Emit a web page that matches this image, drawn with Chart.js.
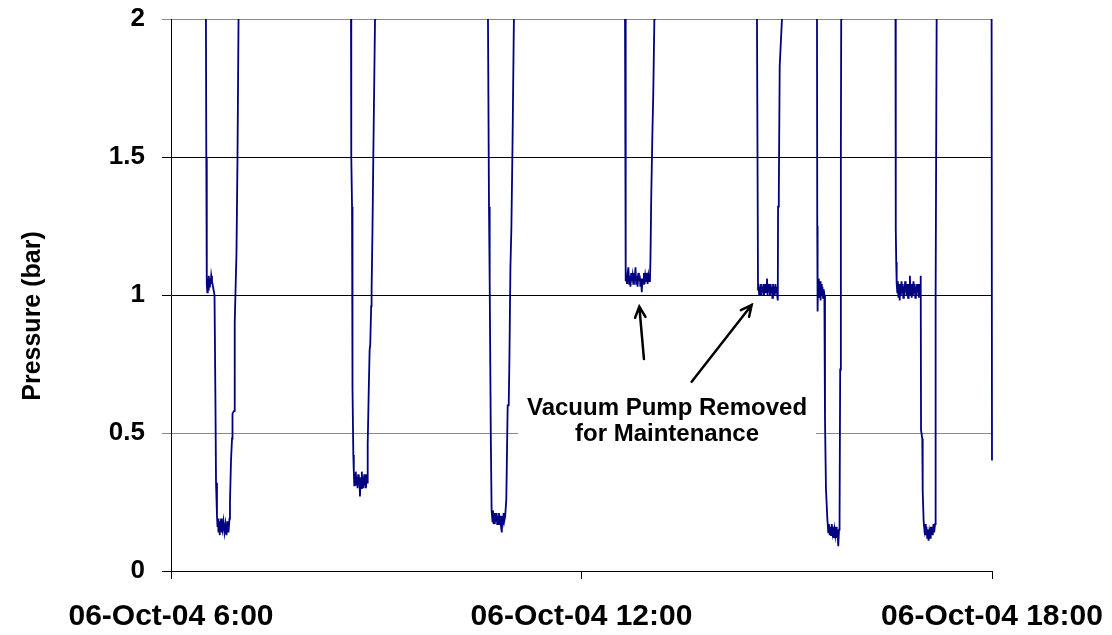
<!DOCTYPE html>
<html>
<head>
<meta charset="utf-8">
<script src="https://cdn.jsdelivr.net/npm/chart.js@4"></script>
<style>
  html, body { margin: 0; padding: 0; background: #ffffff; }
  #wrap { width: 1112px; height: 635px; position: relative; }
</style>
</head>
<body>
<div id="wrap"><canvas id="c"></canvas></div>
<script>
// ---- Data: [time of day in hours, pressure in bar] ----
const leadIn = [[6.000, 2.6]];
const cycle1 = [[6.504,2.6],[6.516,1.5],[6.523,1.04],[6.531,1.01],[6.538,1.06],[6.545,1.02],[6.552,1.07],[6.561,1.03],[6.570,1.06],[6.579,1.04],[6.588,1.07],[6.599,1.05],[6.614,1.03],[6.636,1.00],[6.650,0.60],[6.658,0.32],[6.672,0.20],[6.680,0.16],[6.687,0.19],[6.694,0.14],[6.702,0.18],[6.709,0.13],[6.716,0.17],[6.724,0.15],[6.731,0.19],[6.738,0.14],[6.745,0.17],[6.753,0.15],[6.767,0.18],[6.782,0.14],[6.797,0.17],[6.811,0.13],[6.826,0.18],[6.840,0.14],[6.855,0.19],[6.862,0.25],[6.877,0.40],[6.892,0.48],[6.899,0.57],[6.921,0.58],[6.928,0.75],[6.935,0.90],[6.957,1.15],[6.972,1.50],[6.987,2.00],[7.001,2.6]];
const cycle2 = [[8.624,2.6],[8.631,2.0],[8.635,1.5],[8.646,1.32],[8.650,0.95],[8.656,0.66],[8.665,0.42],[8.672,0.36],[8.679,0.31],[8.686,0.35],[8.694,0.32],[8.701,0.36],[8.710,0.31],[8.719,0.34],[8.727,0.30],[8.736,0.35],[8.745,0.31],[8.754,0.34],[8.762,0.27],[8.771,0.33],[8.780,0.30],[8.789,0.36],[8.798,0.31],[8.806,0.34],[8.815,0.30],[8.824,0.35],[8.833,0.31],[8.841,0.34],[8.850,0.30],[8.859,0.35],[8.868,0.32],[8.875,0.46],[8.890,0.65],[8.903,0.80],[8.912,0.82],[8.926,0.96],[8.932,1.02],[8.945,1.24],[8.958,1.52],[8.982,2.0],[8.989,2.6]];
const cycle3 = [[10.626,2.6],[10.633,2.0],[10.648,1.32],[10.658,1.05],[10.674,0.5],[10.686,0.22],[10.699,0.18],[10.706,0.22],[10.715,0.17],[10.724,0.21],[10.733,0.17],[10.741,0.21],[10.750,0.18],[10.759,0.21],[10.768,0.17],[10.777,0.20],[10.785,0.17],[10.794,0.21],[10.803,0.18],[10.812,0.20],[10.820,0.17],[10.835,0.14],[10.844,0.20],[10.853,0.17],[10.861,0.21],[10.870,0.18],[10.885,0.20],[10.901,0.26],[10.921,0.60],[10.936,0.60],[10.946,0.76],[10.961,1.10],[10.975,1.24],[10.991,1.53],[11.012,2.0],[11.019,2.6]];
const cycle4 = [[12.628,2.6],[12.636,2.0],[12.646,1.05],[12.655,1.07],[12.665,1.04],[12.675,1.08],[12.685,1.10],[12.696,1.04],[12.706,1.07],[12.716,1.03],[12.726,1.08],[12.737,1.05],[12.747,1.07],[12.757,1.04],[12.767,1.08],[12.777,1.05],[12.789,1.10],[12.799,1.04],[12.810,1.07],[12.820,1.03],[12.830,1.08],[12.840,1.05],[12.851,1.07],[12.861,1.03],[12.871,1.06],[12.881,1.01],[12.891,1.06],[12.902,1.04],[12.912,1.08],[12.922,1.04],[12.932,1.07],[12.943,1.05],[12.954,1.08],[12.966,1.04],[12.978,1.07],[12.989,1.05],[13.001,1.06],[13.008,1.13],[13.019,1.35],[13.035,1.57],[13.049,1.73],[13.065,2.0],[13.073,2.6]];
const cycle5 = [[14.558,2.6],[14.565,2.0],[14.580,1.02],[14.588,1.04],[14.597,1.00],[14.606,1.03],[14.615,1.01],[14.623,1.04],[14.632,1.00],[14.641,1.03],[14.650,1.01],[14.659,1.04],[14.667,1.00],[14.676,1.03],[14.685,1.01],[14.694,1.04],[14.702,1.02],[14.711,1.06],[14.720,1.00],[14.729,1.04],[14.737,1.01],[14.746,1.03],[14.755,1.00],[14.764,1.04],[14.773,1.01],[14.781,1.03],[14.790,0.99],[14.799,1.04],[14.808,1.01],[14.816,1.03],[14.825,1.00],[14.834,1.04],[14.843,1.01],[14.851,1.03],[14.860,1.00],[14.869,0.98],[14.873,1.32],[14.884,1.37],[14.897,1.83],[14.930,2.0],[14.938,2.6]];
const cycle6 = [[15.435,2.6],[15.442,2.0],[15.446,1.25],[15.451,0.94],[15.457,1.05],[15.464,0.99],[15.471,1.06],[15.479,1.00],[15.486,1.05],[15.495,0.98],[15.503,1.04],[15.512,1.00],[15.521,1.03],[15.530,0.99],[15.540,1.02],[15.550,1.00],[15.559,0.55],[15.573,0.30],[15.593,0.19],[15.607,0.14],[15.617,0.17],[15.628,0.13],[15.638,0.16],[15.648,0.13],[15.658,0.17],[15.669,0.14],[15.679,0.16],[15.689,0.12],[15.699,0.15],[15.709,0.13],[15.720,0.16],[15.730,0.12],[15.740,0.15],[15.753,0.09],[15.764,0.15],[15.772,0.19],[15.781,0.73],[15.791,1.53],[15.796,2.0],[15.803,2.6]];
const cycle7 = [[16.586,2.6],[16.592,2.0],[16.595,1.24],[16.600,1.12],[16.607,1.04],[16.616,1.01],[16.624,1.05],[16.633,0.99],[16.642,1.04],[16.651,0.98],[16.659,1.03],[16.668,1.00],[16.677,1.05],[16.686,1.01],[16.695,1.04],[16.703,0.99],[16.712,1.03],[16.721,1.00],[16.730,1.05],[16.738,1.01],[16.747,1.04],[16.756,1.00],[16.765,1.03],[16.773,0.99],[16.782,1.04],[16.791,1.01],[16.800,1.07],[16.809,1.00],[16.817,1.04],[16.826,0.99],[16.835,1.03],[16.844,1.00],[16.852,1.05],[16.861,1.01],[16.870,1.04],[16.879,0.99],[16.887,1.03],[16.896,1.00],[16.905,1.04],[16.914,1.01],[16.923,1.03],[16.931,0.99],[16.940,1.04],[16.949,1.00],[16.958,1.07],[16.963,0.51],[16.981,0.48],[16.987,0.29],[17.001,0.18],[17.012,0.15],[17.022,0.17],[17.032,0.13],[17.042,0.16],[17.053,0.12],[17.063,0.15],[17.073,0.11],[17.083,0.14],[17.094,0.12],[17.104,0.16],[17.114,0.13],[17.124,0.16],[17.134,0.13],[17.145,0.17],[17.155,0.14],[17.167,0.17],[17.171,0.17],[17.181,1.00],[17.191,2.0],[17.199,2.6]];
const leadOut = [[17.992, 2.6],[18.000, 0.40]];

const xTickHours  = [6, 12, 18];
const xTickLabels = ['06-Oct-04 6:00', '06-Oct-04 12:00', '06-Oct-04 18:00'];
const yTickValues = [0, 0.5, 1, 1.5, 2];
const yTickLabels = ['0', '0.5', '1', '1.5', '2'];
const yAxisTitle  = 'Pressure (bar)';
const noteLines   = ['Vacuum Pump Removed', 'for Maintenance'];
const noteCenter  = [13.25, 0.59];   // [hour, bar] of the first note line
// arrows: [from hour, from bar, to hour, to bar]
const noteArrows  = [[12.913, 0.768, 12.845, 0.958], [13.610, 0.686, 14.487, 0.964]];

const series = [].concat(leadIn, cycle1, cycle2, cycle3, cycle4, cycle5, cycle6, cycle7, leadOut)
  .map(([x, y]) => ({ x, y }));

const FONT = "'Liberation Sans', Arial, Helvetica, sans-serif";

const annotationPlugin = {
  id: 'notes',
  beforeDatasetsDraw(chart) {
    const ctx = chart.ctx, xs = chart.scales.x, ys = chart.scales.y;
    const cx = xs.getPixelForValue(noteCenter[0]);
    ctx.save();
    ctx.fillStyle = '#ffffff';
    ctx.fillRect(cx - 149, ys.getPixelForValue(noteCenter[1] + 0.07), 298, 62);
    ctx.restore();
  },
  afterDraw(chart) {
    const ctx = chart.ctx, xs = chart.scales.x, ys = chart.scales.y;
    ctx.save();
    ctx.fillStyle = '#000';
    ctx.font = 'bold 24px ' + FONT;
    ctx.textAlign = 'center';
    ctx.textBaseline = 'middle';
    const cx = xs.getPixelForValue(noteCenter[0]);
    const y0 = ys.getPixelForValue(noteCenter[1]);
    noteLines.forEach((t, i) => ctx.fillText(t, cx, y0 + i * 26));
    ctx.strokeStyle = '#000';
    ctx.lineWidth = 2.5;
    ctx.lineCap = 'round';
    noteArrows.forEach(([h1, v1, h2, v2]) => {
      const x1 = xs.getPixelForValue(h1), y1 = ys.getPixelForValue(v1);
      const x2 = xs.getPixelForValue(h2), y2 = ys.getPixelForValue(v2);
      const a = Math.atan2(y2 - y1, x2 - x1), L = 12, w = 0.45;
      ctx.beginPath();
      ctx.moveTo(x1, y1); ctx.lineTo(x2, y2);
      ctx.moveTo(x2 - L * Math.cos(a - w), y2 - L * Math.sin(a - w));
      ctx.lineTo(x2, y2);
      ctx.lineTo(x2 - L * Math.cos(a + w), y2 - L * Math.sin(a + w));
      ctx.stroke();
    });
    ctx.font = 'bold 25px ' + FONT;
    ctx.translate(33, (chart.chartArea.top + chart.chartArea.bottom) / 2 + 21);
    ctx.rotate(-Math.PI / 2);
    ctx.fillText(yAxisTitle, 0, 0);
    ctx.restore();
  }
};

new Chart(document.getElementById('c'), {
  type: 'line',
  data: {
    datasets: [{
      label: 'Pressure',
      data: series,
      borderColor: '#000080',
      borderWidth: 1.8,
      pointRadius: 0,
      tension: 0,
      fill: false,
      clip: { left: 1, top: 0, right: 2, bottom: 2 }
    }]
  },
  options: {
    responsive: true,
    maintainAspectRatio: false,
    animation: false,
    layout: { padding: { top: 19, right: 120, left: 0, bottom: 0 }, autoPadding: false },
    plugins: { legend: { display: false }, tooltip: { enabled: false } },
    scales: {
      x: {
        type: 'linear',
        min: 6, max: 18,
        afterBuildTicks: (s) => { s.ticks = xTickHours.map(v => ({ value: v })); },
        afterFit: (s) => { s.height = 64; s.paddingLeft = 0; s.paddingRight = 0; },
        ticks: {
          autoSkip: false, maxRotation: 0, padding: 20,
          color: '#000',
          font: { family: FONT, size: 30, weight: 'bold' },
          callback: (v) => xTickLabels[xTickHours.indexOf(v)]
        },
        grid: { drawOnChartArea: false, drawTicks: true, tickLength: 8, tickColor: '#000', lineWidth: 1 },
        border: { display: true, color: '#000', width: 1 }
      },
      y: {
        type: 'linear',
        min: 0, max: 2,
        afterBuildTicks: (s) => { s.ticks = yTickValues.map(v => ({ value: v })); },
        afterFit: (s) => { s.width = 171; s.paddingTop = 0; s.paddingBottom = 0; },
        ticks: {
          padding: 17,
          color: '#000',
          font: { family: FONT, size: 26, weight: 'bold' },
          callback: (v) => yTickLabels[yTickValues.indexOf(v)]
        },
        grid: {
          drawTicks: true, tickLength: 9, lineWidth: 1,
          color: (c) => (c.tick && (c.tick.value === 2 || c.tick.value === 0.5)) ? '#8a8a8a' : '#000',
          tickColor: (c) => (c.tick && (c.tick.value === 2 || c.tick.value === 0.5)) ? '#8a8a8a' : '#000'
        },
        border: { display: true, color: '#000', width: 1 }
      }
    }
  },
  plugins: [annotationPlugin]
});
</script>
</body>
</html>
